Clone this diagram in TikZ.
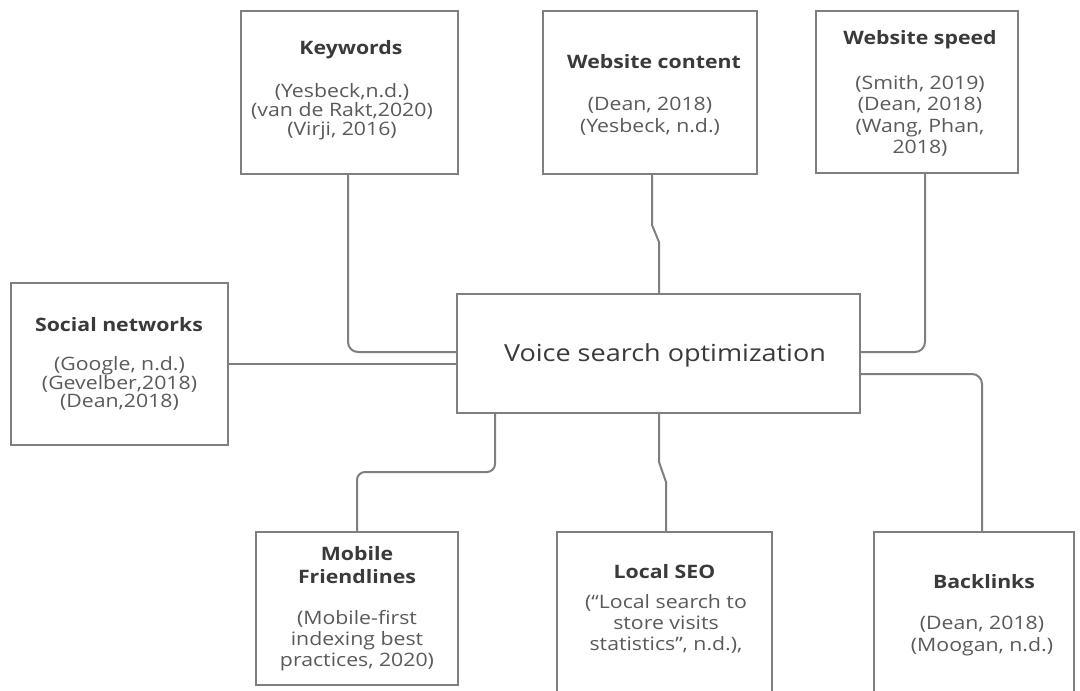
\documentclass[tikz,border=0pt]{standalone}
\usepackage{fontspec}
\setmainfont{Open Sans}[FakeStretch=1.15]
\definecolor{edge}{HTML}{7F7F7F}
\definecolor{titlec}{HTML}{3A3A3A}
\definecolor{bodyc}{HTML}{5A5A5A}
\begin{document}
\begin{tikzpicture}[x=1pt,y=-1pt,
  box/.style={draw=edge,line width=2pt,fill=white,inner sep=0pt,minimum width=#1},
  conn/.style={draw=edge,line width=2pt},
  ttl/.style={text=titlec,font=\fontsize{18.5}{23}\selectfont\bfseries,align=center,inner sep=0pt},
  bdy/.style={text=bodyc,font=\fontsize{18.5}{#1}\selectfont,align=center,inner sep=0pt},
  bdy/.default=20.5,
  ctr/.style={text=titlec,font=\fontsize{23.5}{28}\selectfont,inner sep=0pt}]
\useasboundingbox (0,0) rectangle (1080,691);
\clip (0,0) rectangle (1080,691);
\fill[white] (0,0) rectangle (1080,691);
% boxes
\node[box=217pt,minimum height=163pt] (kw) at (349.5,92.5) {};
\node[box=214pt,minimum height=163pt] (wc) at (650,92.5) {};
\node[box=202pt,minimum height=162pt] (ws) at (917,92) {};
\node[box=217pt,minimum height=162pt] (sn) at (119.5,364) {};
\node[box=403pt,minimum height=119pt] (vs) at (658.5,353.5) {};
\node[box=202pt,minimum height=153pt] (mf) at (357,608.5) {};
\node[box=215pt,minimum height=200pt] (ls) at (664.5,632) {};
\node[box=200pt,minimum height=200pt] (bl) at (974,632) {};
% coordinates
\coordinate (kwA) at (348,174);
\coordinate (wcA) at (652,174);
\coordinate (wsA) at (925,173);
\coordinate (mfA) at (357,532);
\coordinate (lsA) at (666,532);
\coordinate (blA) at (982,532);
% connectors
\draw[conn,rounded corners=10pt] (kwA) |- (vs.west |- 0,352);
\draw[conn] (sn.east) -- (vs.west |- sn.east);
\draw[conn] (wcA) -- (652,225) -- (659,242) -- (vs.north -| 659,0);
\draw[conn,rounded corners=10pt] (wsA) |- (vs.east |- 0,352);
\draw[conn,rounded corners=10pt] (vs.east |- 0,374) -| (blA);
\draw[conn,rounded corners=8pt] (vs.south -| 495,0) |- (mfA |- 0,472) -- (mfA);
\draw[conn] (vs.south -| 659,0) -- (659,462) -- (666,482) -- (lsA);
% texts
\node[ttl] (kwT) at (351,50) {Keywords};
\node[bdy=19] (kwB) at (342,112) {(Yesbeck,n.d.)\\(van de Rakt,2020)\\(Virji, 2016)};
\node[ttl] (wcT) at (654,62) {Website content};
\node[bdy=22] (wcB) at (650,116) {(Dean, 2018)\\(Yesbeck, n.d.)};
\node[ttl] (wsT) at (920,40) {Website speed};
\node[bdy=21.5] (wsB) at (920,116) {(Smith, 2019)\\(Dean, 2018)\\(Wang, Phan,\\2018)};
\node[ttl] (snT) at (119,325) {Social networks};
\node[bdy=18.8] (snB) at (119.5,383.5) {(Google, n.d.)\\(Gevelber,2018)\\(Dean,2018)};
\node[ctr] (vsT) at (665,355) {Voice search optimization};
\node[ttl] (mfT) at (357,565.5) {Mobile\\Friendlines};
\node[bdy=21] (mfB) at (357,641) {(Mobile-first\\indexing best\\practices, 2020)};
\node[ttl] (lsT) at (664.5,572) {Local SEO};
\node[bdy=21] (lsB) at (666,624) {(“Local search to\\store visits\\statistics”, n.d.),};
\node[ttl] (blT) at (984,582) {Backlinks};
\node[bdy=22] (blB) at (982,636) {(Dean, 2018)\\(Moogan, n.d.)};
\end{tikzpicture}
\end{document}
